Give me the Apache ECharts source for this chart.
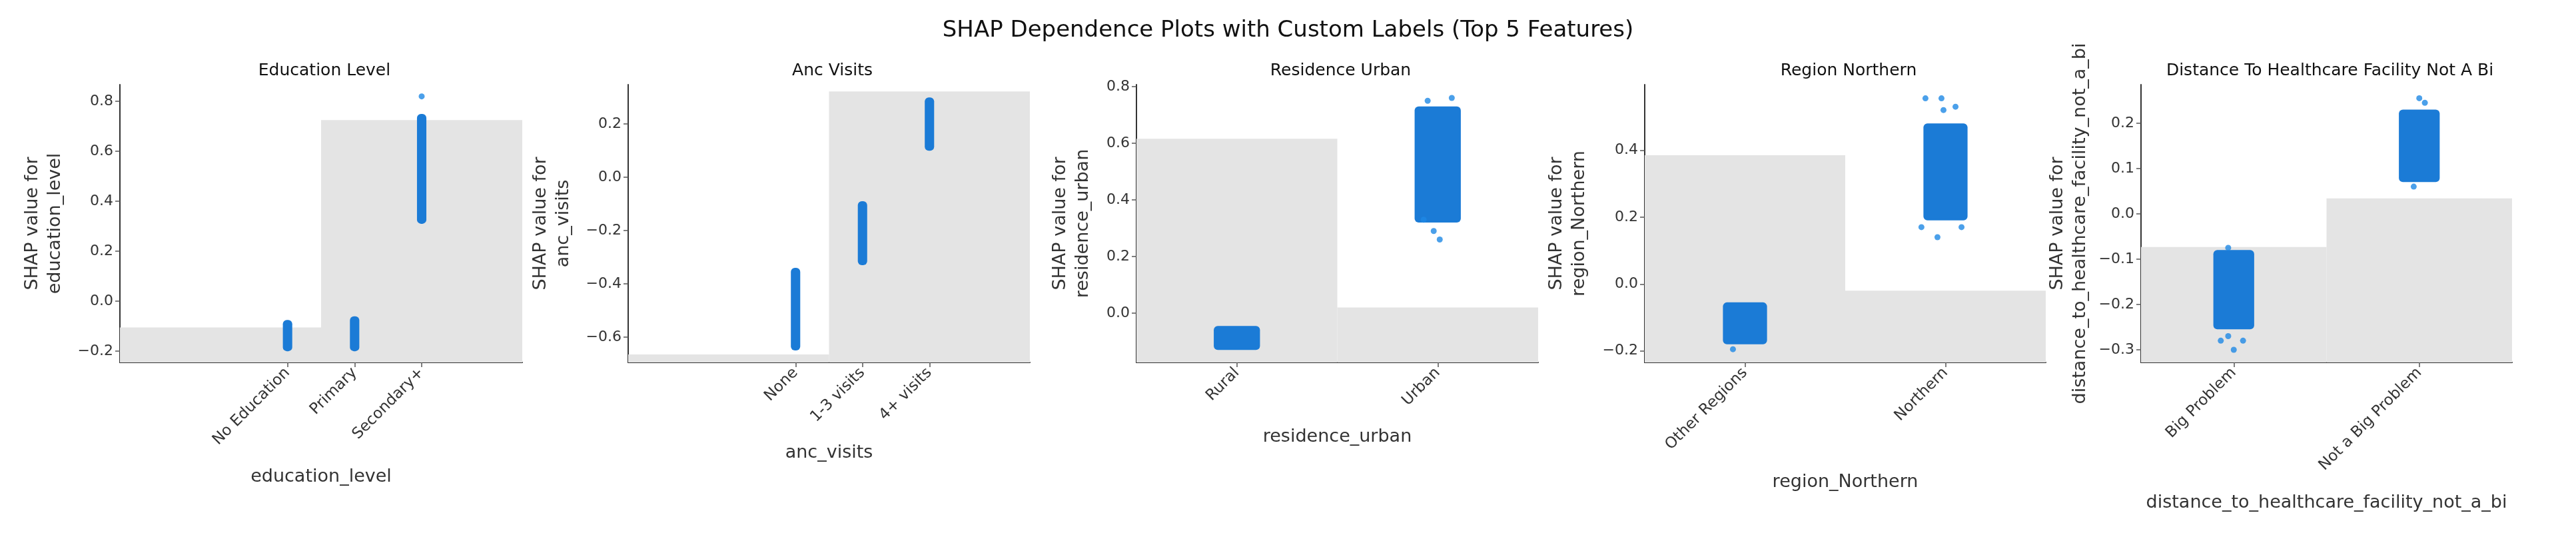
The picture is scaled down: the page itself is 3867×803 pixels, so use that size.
<!DOCTYPE html>
<html>
<head>
<meta charset="utf-8">
<script src="https://cdn.jsdelivr.net/npm/echarts@6/dist/echarts.min.js"></script>
<style>html,body{margin:0;padding:0;background:#fff}#main{width:3867px;height:803px}</style>
</head>
<body>
<div id="main"></div>
<script>
// panel titles and axis names
var titles = ['Education Level', 'Anc Visits', 'Residence Urban', 'Region Northern', 'Distance To Healthcare Facility Not A Bi'];
var features = ['education_level', 'anc_visits', 'residence_urban', 'region_Northern', 'distance_to_healthcare_facility_not_a_bi'];
var categories = [
  ['No Education', 'Primary', 'Secondary+'],
  ['None', '1-3 visits', '4+ visits'],
  ['Rural', 'Urban'],
  ['Other Regions', 'Northern'],
  ['Big Problem', 'Not a Big Problem']
];
var yTicks = [
  [-0.2, 0.0, 0.2, 0.4, 0.6, 0.8],
  [-0.6, -0.4, -0.2, 0.0, 0.2],
  [0.0, 0.2, 0.4, 0.6, 0.8],
  [-0.2, 0.0, 0.2, 0.4],
  [-0.3, -0.2, -0.1, 0.0, 0.1, 0.2]
];
var yRanges = [[-0.245, 0.867], [-0.695, 0.348], [-0.174, 0.807], [-0.2345, 0.596], [-0.328, 0.285]];
var xRanges = [[-2.5, 3.5], [-2.5, 3.5], [-0.5, 1.5], [-0.5, 1.5], [-0.5, 1.5]];
// background histogram bars: [x0, x1, top]
var histBars = [
  [[-2.5, 0.5, -0.105], [0.5, 3.5, 0.725]],
  [[-2.5, 0.5, -0.665], [0.5, 3.5, 0.3225]],
  [[-0.5, 0.5, 0.616], [0.5, 1.5, 0.02]],
  [[-0.5, 0.5, 0.385], [0.5, 1.5, -0.02]],
  [[-0.5, 0.5, -0.0735], [0.5, 1.5, 0.034]]
];
// SHAP value spread per category: [x, low, high]
var shapSpread = [
  [[0, -0.2, -0.075], [1, -0.2, -0.06], [2, 0.31, 0.75]],
  [[0, -0.65, -0.34], [1, -0.33, -0.09], [2, 0.1, 0.3]],
  [[0, -0.13, -0.045], [1, 0.32, 0.73]],
  [[0, -0.18, -0.055], [1, 0.19, 0.48]],
  [[0, -0.255, -0.08], [1, 0.07, 0.23]]
];
// isolated points: [x, y]
var outliers = [
  [[2.0, 0.82]],
  [],
  [[1.07, 0.76], [0.95, 0.75], [0.98, 0.29], [1.01, 0.26], [0.93, 0.33]],
  [[0.9, 0.555], [0.98, 0.555], [0.96, 0.14], [0.88, 0.17], [1.08, 0.17], [0.99, 0.52], [1.05, 0.53], [-0.06, -0.195]],
  [[0.0, -0.3], [-0.07, -0.28], [0.05, -0.28], [-0.03, -0.27], [1.0, 0.255], [1.03, 0.245], [0.97, 0.06], [-0.03, -0.075]]
];

var layout = [
  {left: 180, width: 604, gapX: 158, gapY: 80, jitter: 0.07},
  {left: 943, width: 603, gapX: 122, gapY: 80, jitter: 0.07},
  {left: 1706, width: 603, gapX: 98, gapY: 63, jitter: 0.115},
  {left: 2469, width: 602, gapX: 166, gapY: 81, jitter: 0.11},
  {left: 3214, width: 557, gapX: 197, gapY: 74, jitter: 0.11}
];
var FONT = 'DejaVu Sans';
var blue = '#1E88E5';

var myChart = echarts.init(document.getElementById('main'));
var grid = [], xAxis = [], yAxis = [], series = [], title = [];
title.push({text: 'SHAP Dependence Plots with Custom Labels (Top 5 Features)', left: 'center', top: 24,
  textStyle: {fontFamily: FONT, fontSize: 34, fontWeight: 'normal', color: '#111'}});

layout.forEach(function (L, i) {
  grid.push({left: L.left, top: 127, width: L.width, height: 417});
  title.push({text: titles[i], left: L.left + L.width / 2, top: 89, textAlign: 'center',
    textStyle: {fontFamily: FONT, fontSize: 25, fontWeight: 'normal', color: '#111'}});
  var cats = categories[i];
  xAxis.push({
    type: 'value', gridIndex: i, min: xRanges[i][0], max: xRanges[i][1],
    name: features[i], nameLocation: 'middle', nameGap: L.gapX,
    nameTextStyle: {fontFamily: FONT, fontSize: 27, color: '#333'},
    splitLine: {show: false},
    axisLine: {show: true, onZero: false, lineStyle: {color: '#333', width: 2}},
    axisTick: {show: true, length: 7, lineStyle: {color: '#555', width: 1.5}, customValues: cats.map(function (c, k) { return k; })},
    axisLabel: {rotate: 45, fontFamily: FONT, fontSize: 23, color: '#333', margin: 12,
      customValues: cats.map(function (c, k) { return k; }),
      formatter: function (v) { return cats[Math.round(v)]; }}
  });
  yAxis.push({
    type: 'value', gridIndex: i, min: yRanges[i][0], max: yRanges[i][1],
    name: 'SHAP value for\n' + features[i], nameLocation: 'middle', nameGap: L.gapY, nameRotate: 90,
    nameTextStyle: {fontFamily: FONT, fontSize: 27, color: '#333', lineHeight: 34, align: 'center'},
    splitLine: {show: false},
    axisLine: {show: true, onZero: false, lineStyle: {color: '#333', width: 2}},
    axisTick: {show: true, length: 7, lineStyle: {color: '#555', width: 1.5}, customValues: yTicks[i]},
    axisLabel: {fontFamily: FONT, fontSize: 22, color: '#333', margin: 10, customValues: yTicks[i],
      formatter: function (v) { return (v < 0 ? '\u2212' + Math.abs(v).toFixed(1) : v.toFixed(1)); }}
  });
  var yMin = yRanges[i][0];
  series.push({
    type: 'custom', xAxisIndex: i, yAxisIndex: i, data: histBars[i], z: 1, silent: true,
    renderItem: function (params, api) {
      var p0 = api.coord([api.value(0), api.value(2)]);
      var p1 = api.coord([api.value(1), yMin]);
      return {type: 'rect', shape: {x: p0[0], y: p0[1], width: p1[0] - p0[0], height: p1[1] - p0[1]},
        style: {fill: '#e4e4e4'}};
    }
  });
  var jit = L.jitter;
  series.push({
    type: 'custom', xAxisIndex: i, yAxisIndex: i, data: shapSpread[i], z: 3, silent: true,
    renderItem: function (params, api) {
      var x = api.value(0);
      var a = api.coord([x - jit, api.value(2)]);
      var b = api.coord([x + jit, api.value(1)]);
      return {type: 'rect', shape: {x: a[0], y: a[1], width: b[0] - a[0], height: b[1] - a[1], r: 6},
        style: {fill: '#1b7bd6'}};
    }
  });
  series.push({
    type: 'scatter', xAxisIndex: i, yAxisIndex: i, data: outliers[i], z: 4,
    symbolSize: 9, itemStyle: {color: blue}
  });
});

myChart.setOption({animation: false, title: title, grid: grid, xAxis: xAxis, yAxis: yAxis, series: series});
</script>
</body>
</html>
